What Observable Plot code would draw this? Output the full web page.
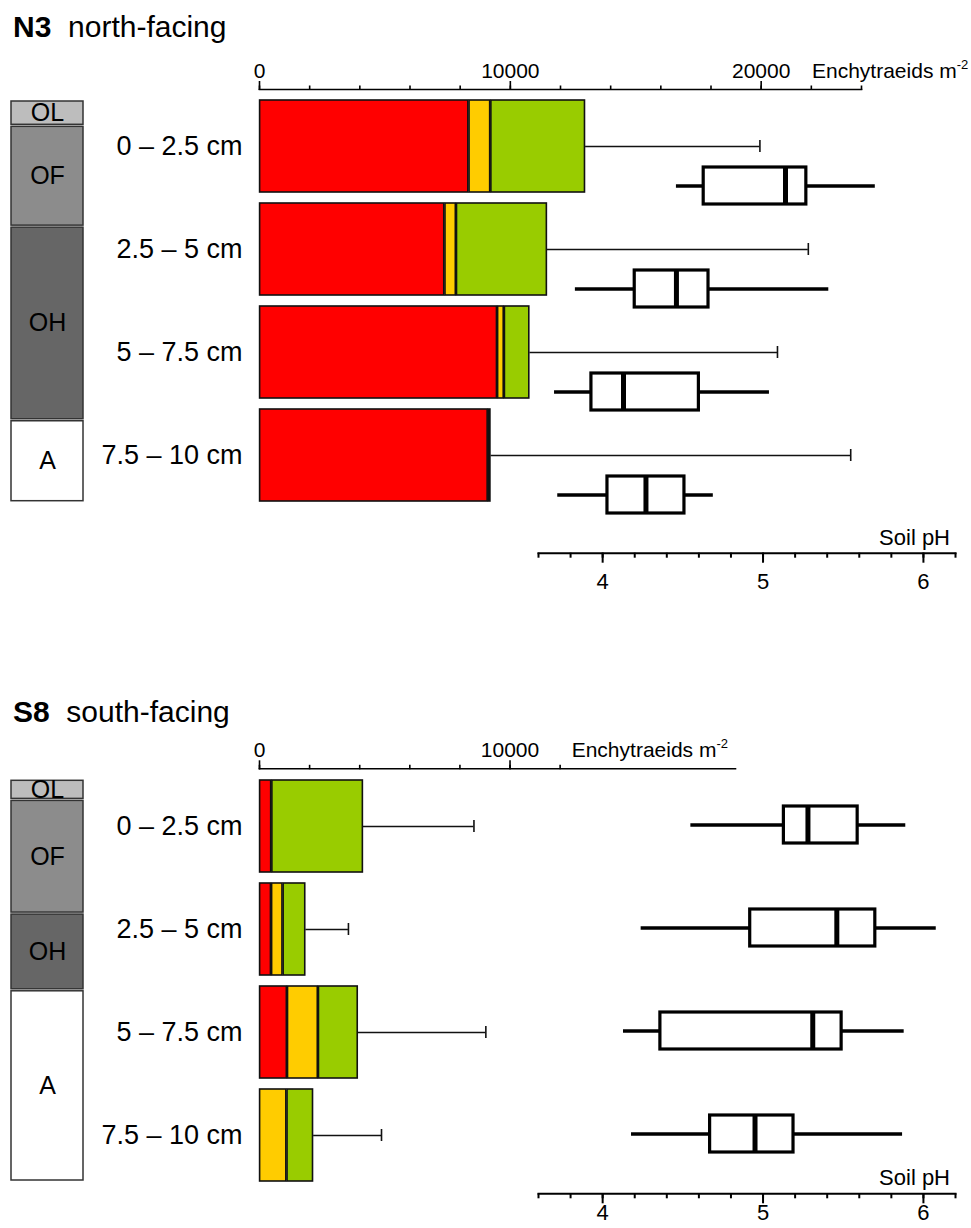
<!DOCTYPE html>
<html>
<head>
<meta charset="utf-8">
<script src="https://cdn.jsdelivr.net/npm/d3@7"></script>
<script src="https://cdn.jsdelivr.net/npm/@observablehq/plot@0.6"></script>
<style>
  body { margin: 0; background: #fff; }
  #root { position: relative; width: 971px; height: 1228px; overflow: hidden;
          font-family: "Liberation Sans", Arial, sans-serif; color: #000; background: #fff; }
  #root svg { position: absolute; left: 0; top: 0; }
  .t { position: absolute; white-space: pre; line-height: 1; color: #000; }
  .sup { position: relative; top: -9px; font-size: 13px; }
</style>
</head>
<body>
<div id="root"></div>
<script>
// ---------- data ----------
const depths = ["0 – 2.5 cm", "2.5 – 5 cm", "5 – 7.5 cm", "7.5 – 10 cm"];
const groups = ["group 1", "group 2", "group 3"];
const groupColors = ["#ff0000", "#ffcc00", "#99cc00"];

const horizonNames = ["OL", "OF", "OH", "A"];
const horizonColors = ["#bdbdbd", "#8c8c8c", "#666666", "#ffffff"];

// N3 north-facing: enchytraeid densities (ind. m-2), stacked groups + SD
const n3Group1 = [8350, 7390, 9490, 9120];
const n3Group2 = [870, 460, 270, 110];
const n3Group3 = [3780, 3630, 1020, 0];
const n3Sd = [6950, 10400, 9870, 14340];
// N3 soil pH box plots
const n3PhMin = [4.46, 3.83, 3.70, 3.72];
const n3PhQ1 = [4.63, 4.20, 3.93, 4.03];
const n3PhMedian = [5.14, 4.46, 4.13, 4.27];
const n3PhQ3 = [5.27, 4.66, 4.60, 4.51];
const n3PhMax = [5.70, 5.41, 5.04, 4.69];
// N3 horizons (cm)
const n3HorizonTop = [0, 0.63, 3.14, 7.96];
const n3HorizonBottom = [0.63, 3.14, 7.96, 10];

// S8 south-facing
const s8Group1 = [490, 480, 1115, 0];
const s8Group2 = [0, 460, 1235, 1095];
const s8Group3 = [3660, 910, 1595, 1065];
const s8Sd = [4410, 1700, 5090, 2710];
const s8PhMin = [4.55, 4.24, 4.13, 4.18];
const s8PhQ1 = [5.13, 4.92, 4.36, 4.67];
const s8PhMedian = [5.28, 5.46, 5.31, 4.95];
const s8PhQ3 = [5.59, 5.70, 5.49, 5.19];
const s8PhMax = [5.89, 6.08, 5.88, 5.87];
const s8HorizonTop = [0, 0.50, 3.33, 5.24];
const s8HorizonBottom = [0.50, 3.33, 5.24, 10];

// axes
const n3CountMax = 24000;
const n3CountMinorTicks = d3.range(0, 24001, 2000);
const n3CountMajorTicks = [0, 10000, 20000];
const s8CountMax = 19000;
const s8CountMinorTicks = d3.range(0, 12001, 2000);
const s8CountMajorTicks = [0, 10000];
const phDomain = [3.6, 6.2];
const phMinorTicks = d3.range(18, 32).map(d => d / 5);
const phMajorTicks = [4, 5, 6];

// ---------- drawing ----------
const root = document.getElementById("root");
const svgStyle = "background: transparent; overflow: visible; font-family: 'Liberation Sans', Arial, sans-serif; font-size: 20px; color: #000;";

function barPlot(g1, g2, g3, sd, cfg) {
  const long = [];
  depths.forEach((d, i) => {
    [g1, g2, g3].forEach((arr, k) => {
      if (arr[i] > 0) long.push({depth: d, group: groups[k], value: arr[i]});
    });
  });
  const rows = depths.map((d, i) => ({depth: d, total: g1[i] + g2[i] + g3[i], sd: sd[i]}));
  return Plot.plot({
    width: 971, height: cfg.height,
    marginLeft: 259, marginRight: cfg.marginRight,
    marginTop: cfg.top, marginBottom: cfg.height - cfg.bottom,
    style: svgStyle,
    x: {domain: [0, cfg.xMax], label: null},
    y: {domain: depths, padding: 0.105, label: null},
    color: {domain: groups, range: groupColors},
    marks: [
      Plot.barX(long, Plot.stackX({x: "value", y: "depth", fill: "group", stroke: "#111", strokeWidth: 1.6, insetLeft: 0.6, insetRight: 0.6})),
      Plot.ruleY(rows, {y: "depth", x1: "total", x2: d => d.total + d.sd, stroke: "#111", strokeWidth: 1.3}),
      Plot.tickX(rows, {x: d => d.total + d.sd, y: "depth", stroke: "#111", strokeWidth: 1.6, insetTop: 40, insetBottom: 40}),
      Plot.frame({anchor: "top", strokeWidth: 1.6}),
      Plot.axisX({anchor: "top", ticks: cfg.minorTicks, tickSize: 4.5, tickFormat: () => "", strokeWidth: 1.6, label: null}),
      Plot.axisX({anchor: "top", ticks: cfg.majorTicks, tickSize: 9, tickPadding: 2.5, tickFormat: d => String(d), fontSize: 21, strokeWidth: 1.6, label: null}),
      Plot.axisY({anchor: "left", tickSize: 0, tickPadding: 17, fontSize: 27, label: null})
    ]
  });
}

function phPlot(mn, q1, med, q3, mx, cfg) {
  const rows = depths.map((d, i) => ({depth: d, min: mn[i], q1: q1[i], median: med[i], q3: q3[i], max: mx[i]}));
  return Plot.plot({
    width: 971, height: cfg.height,
    marginLeft: 538, marginRight: 16,
    marginTop: cfg.top, marginBottom: cfg.height - cfg.bottom,
    style: svgStyle,
    x: {domain: phDomain, label: null},
    y: {domain: depths, paddingInner: 0.642, paddingOuter: cfg.outer, axis: null},
    marks: [
      Plot.ruleY(rows, {y: "depth", x1: "min", x2: "max", stroke: "#000", strokeWidth: 3.5}),
      Plot.barX(rows, {y: "depth", x1: "q1", x2: "q3", fill: "white", stroke: "#000", strokeWidth: 3.2}),
      Plot.tickX(rows, {y: "depth", x: "median", stroke: "#000", strokeWidth: 5}),
      Plot.frame({anchor: "bottom", strokeWidth: 2}),
      Plot.axisX({anchor: "bottom", ticks: phMinorTicks, tickSize: 5, tickFormat: () => "", strokeWidth: 2, label: null}),
      Plot.axisX({anchor: "bottom", ticks: phMajorTicks, tickSize: 10, tickPadding: cfg.labelPad, tickFormat: d => String(d), fontSize: 22, strokeWidth: 2, label: null})
    ]
  });
}

function horizonPlot(tops, bottoms, cfg) {
  const rows = horizonNames.map((n, i) => ({name: n, top: tops[i], bottom: bottoms[i]}));
  return Plot.plot({
    width: 83, height: cfg.height,
    marginLeft: 11, marginRight: 0,
    marginTop: cfg.top, marginBottom: cfg.height - cfg.bottom,
    style: svgStyle,
    y: {domain: [0, 10], reverse: true, axis: null},
    color: {domain: horizonNames, range: horizonColors},
    marks: [
      Plot.rect(rows, {y1: "top", y2: "bottom", fill: "name", stroke: "#333", strokeWidth: 1.5, insetTop: 1, insetBottom: 1}),
      Plot.text(rows, {y: d => (d.top + d.bottom) / 2, text: "name", fontSize: 25, fill: "#000"})
    ]
  });
}

function addText(html, left, top, size, extra) {
  const div = document.createElement("div");
  div.className = "t";
  div.innerHTML = html;
  div.style.left = left == null ? "" : left + "px";
  div.style.top = top + "px";
  div.style.fontSize = size + "px";
  if (extra) Object.assign(div.style, extra);
  root.appendChild(div);
}

// N3 panel
root.appendChild(horizonPlot(n3HorizonTop, n3HorizonBottom, {height: 520, top: 100, bottom: 501.7}));
root.appendChild(barPlot(n3Group1, n3Group2, n3Group3, n3Sd,
  {height: 530, top: 89, bottom: 513, xMax: n3CountMax, marginRight: 110, minorTicks: n3CountMinorTicks, majorTicks: n3CountMajorTicks}));
root.appendChild(phPlot(n3PhMin, n3PhQ1, n3PhMedian, n3PhQ3, n3PhMax, {height: 610, top: 127.3, bottom: 552.7, outer: 0.379, labelPad: 10}));

// S8 panel
root.appendChild(horizonPlot(s8HorizonTop, s8HorizonBottom, {height: 1228, top: 779.3, bottom: 1181}));
root.appendChild(barPlot(s8Group1, s8Group2, s8Group3, s8Sd,
  {height: 1228, top: 768.3, bottom: 1192.3, xMax: s8CountMax, marginRight: 236, minorTicks: s8CountMinorTicks, majorTicks: s8CountMajorTicks}));
root.appendChild(phPlot(s8PhMin, s8PhQ1, s8PhMedian, s8PhQ3, s8PhMax, {height: 1228, top: 765.2, bottom: 1193.3, outer: 0.395, labelPad: 1}));

// titles and axis labels
addText("<b>N3</b>  north-facing", 13, 11.6, 30);
addText("<b>S8</b>  south-facing", 13, 696.5, 30);
addText("Enchytraeids m<span class='sup'>-2</span>", 812, 59.6, 21);
addText("Enchytraeids m<span class='sup'>-2</span>", 571.7, 738.9, 21);
addText("Soil pH", null, 527, 22, {right: "21px"});
addText("Soil pH", null, 1167, 22, {right: "21px"});
</script>
</body>
</html>
